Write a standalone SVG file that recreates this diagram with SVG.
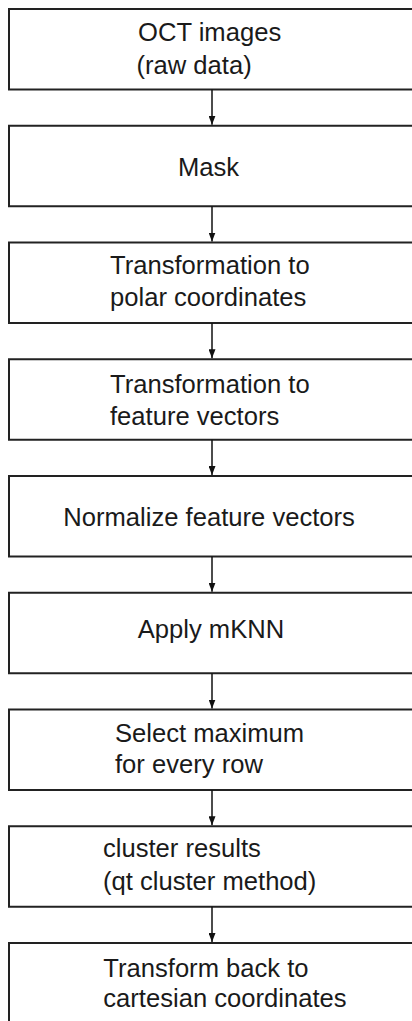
<svg xmlns="http://www.w3.org/2000/svg" width="412" height="1021" viewBox="0 0 412 1021">
<style>
.box{fill:#fff;stroke:#222;stroke-width:2}
.t{font-family:"Liberation Sans",Arial,sans-serif;font-size:25.6px;fill:#1a1a1a}
.c{stroke:#111;stroke-width:1.5;fill:none}
</style>
<defs>
<marker id="ah" markerWidth="9" markerHeight="7" refX="9" refY="3.5" orient="auto" markerUnits="userSpaceOnUse" viewBox="0 0 9 7">
<path d="M0,0 L9,3.5 L0,7 Z" fill="#111"/>
</marker>
</defs>
<rect width="412" height="1021" fill="#fff"/>
<g id="n1"><rect class="box" x="9" y="9" width="420" height="80.5"/><text class="t" x="138" y="40.7">OCT images</text><text class="t" x="136.5" y="74">(raw data)</text></g>
<g id="n2"><rect class="box" x="9" y="125.75" width="420" height="80.5"/><text class="t" x="178" y="175.7">Mask</text></g>
<g id="n3"><rect class="box" x="9" y="242.5" width="420" height="80.5"/><text class="t" x="110" y="274">Transformation to</text><text class="t" x="110" y="305.5">polar coordinates</text></g>
<g id="n4"><rect class="box" x="9" y="359.25" width="420" height="80.5"/><text class="t" x="110" y="392.7">Transformation to</text><text class="t" x="110" y="425">feature vectors</text></g>
<g id="n5"><rect class="box" x="9" y="476" width="420" height="80.5"/><text class="t" x="63.3" y="526">Normalize feature vectors</text></g>
<g id="n6"><rect class="box" x="9" y="592.75" width="420" height="80.5"/><text class="t" x="137.7" y="638.3">Apply mKNN</text></g>
<g id="n7"><rect class="box" x="9" y="709.5" width="420" height="80.5"/><text class="t" x="115" y="741.7">Select maximum</text><text class="t" x="115" y="773">for every row</text></g>
<g id="n8"><rect class="box" x="9" y="826.25" width="420" height="80.5"/><text class="t" x="103" y="856.7">cluster results</text><text class="t" x="103" y="890">(qt cluster method)</text></g>
<g id="n9"><rect class="box" x="9" y="943" width="420" height="100"/><text class="t" x="103.3" y="976.7">Transform back to</text><text class="t" x="103.3" y="1006.7">cartesian coordinates</text></g>
<g id="connectors">
<line class="c" x1="212" y1="89.5" x2="212" y2="124.75" marker-end="url(#ah)"/>
<line class="c" x1="212" y1="206.25" x2="212" y2="241.5" marker-end="url(#ah)"/>
<line class="c" x1="212" y1="323" x2="212" y2="358.25" marker-end="url(#ah)"/>
<line class="c" x1="212" y1="439.75" x2="212" y2="475" marker-end="url(#ah)"/>
<line class="c" x1="212" y1="556.5" x2="212" y2="591.75" marker-end="url(#ah)"/>
<line class="c" x1="212" y1="673.25" x2="212" y2="708.5" marker-end="url(#ah)"/>
<line class="c" x1="212" y1="790" x2="212" y2="825.25" marker-end="url(#ah)"/>
<line class="c" x1="212" y1="906.75" x2="212" y2="942" marker-end="url(#ah)"/>
</g>
</svg>
